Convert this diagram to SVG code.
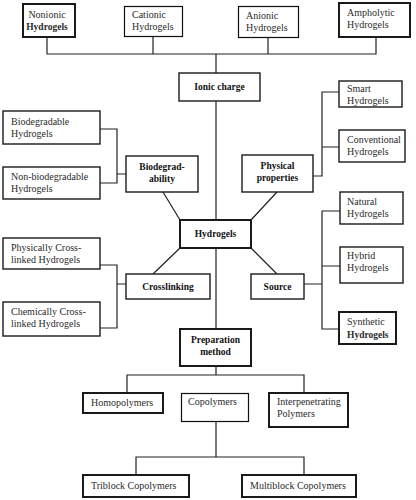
<svg xmlns="http://www.w3.org/2000/svg" width="416" height="500" viewBox="0 0 416 500">
<style>
rect{fill:#fff;stroke:#1a1a1a;stroke-width:1.4}
rect.t{stroke-width:2}
rect.n{stroke-width:1.2;stroke:#111}
rect.bg{stroke:none}
#connectors path{fill:none;stroke:#222;stroke-width:1.2}
text{font-family:"Liberation Serif","Times New Roman",serif;font-size:10px;fill:#2a2a2a}
text.b{font-weight:bold;font-size:9.5px;fill:#111}
text.c{text-anchor:middle}
</style>
<rect class="bg" x="0" y="0" width="416" height="500"/>
<g id="connectors">
<path d="M47 37V54H376V37M153 36V54M268 37V54M216 54V73"/>
<path d="M216 101V220M216 248V329"/>
<path d="M163 192L180 220M277 192L251 220M180 248L153 274M251 248L277 274"/>
<path d="M100 129H117V183H100M117 174H126"/>
<path d="M100 265H117V328H100M117 284H126"/>
<path d="M339 92H322V176H313M322 147H339"/>
<path d="M340 211H322V329H339M322 266H340M304 284H322"/>
<path d="M216 366V375M127 393V375H304V393"/>
<path d="M216 421V457M136 475V457H304V475"/>
</g>
<g id="nonionic"><rect class="t" x="23" y="4" width="52" height="33"/><text class="c" x="47" y="18">Nonionic</text><text class="c" x="47" y="30" style="font-weight:bold;font-size:9.5px">Hydrogels</text></g>
<g id="cationic"><rect class="n" x="124.5" y="6.5" width="58" height="30"/><text x="132" y="18">Cationic</text><text x="132" y="30">Hydrogels</text></g>
<g id="anionic"><rect class="n" x="238.5" y="6.5" width="60" height="31"/><text x="246" y="19">Anionic</text><text x="246" y="31">Hydrogels</text></g>
<g id="ampholytic"><rect class="t" x="339" y="3" width="71" height="34"/><text x="347" y="16">Ampholytic</text><text x="347" y="28">Hydrogels</text></g>
<g id="ionic-charge"><rect x="179" y="73" width="81" height="28"/><text class="b c" x="219.5" y="90">Ionic charge</text></g>
<g id="smart"><rect x="339" y="81" width="63" height="26"/><text x="347" y="92">Smart</text><text x="347" y="104">Hydrogels</text></g>
<g id="conventional"><rect x="339" y="130" width="66" height="32"/><text x="347" y="143">Conventional</text><text x="347" y="155">Hydrogels</text></g>
<g id="biodegradable"><rect x="3" y="111" width="97" height="33"/><text x="11" y="125">Biodegradable</text><text x="11" y="137">Hydrogels</text></g>
<g id="non-biodegradable"><rect x="3" y="167" width="97" height="32"/><text x="11" y="180">Non-biodegradable</text><text x="11" y="192">Hydrogels</text></g>
<g id="biodegradability"><rect x="126" y="156" width="72" height="36"/><text class="b c" x="162" y="170">Biodegrad-</text><text class="b c" x="162" y="182">ability</text></g>
<g id="physical-properties"><rect x="242" y="155" width="71" height="37"/><text class="b c" x="277.5" y="169">Physical</text><text class="b c" x="277.5" y="181">properties</text></g>
<g id="natural"><rect x="340" y="192" width="63" height="32"/><text x="347" y="205">Natural</text><text x="347" y="217">Hydrogels</text></g>
<g id="hydrogels"><rect class="t" x="180" y="220" width="71" height="28"/><text class="b c" x="215.5" y="237">Hydrogels</text></g>
<g id="physically"><rect x="3" y="238" width="97" height="31"/><text x="11" y="251">Physically Cross-</text><text x="11" y="263">linked Hydrogels</text></g>
<g id="hybrid"><rect x="340" y="247" width="63" height="36"/><text x="347" y="259">Hybrid</text><text x="347" y="271">Hydrogels</text></g>
<g id="crosslinking"><rect x="126" y="274" width="84" height="25"/><text class="b c" x="168" y="290">Crosslinking</text></g>
<g id="source"><rect x="251" y="274" width="53" height="25"/><text class="b c" x="277.5" y="290">Source</text></g>
<g id="chemically"><rect x="3" y="302" width="97" height="34"/><text x="11" y="315">Chemically Cross-</text><text x="11" y="327">linked Hydrogels</text></g>
<g id="synthetic"><rect class="t" x="339" y="312" width="57" height="32"/><text x="347" y="325">Synthetic</text><text x="347" y="338" style="font-weight:bold;font-size:9.5px">Hydrogels</text></g>
<g id="preparation"><rect class="t" x="180" y="329" width="71" height="37"/><text class="b c" x="215.5" y="343">Preparation</text><text class="b c" x="215.5" y="355">method</text></g>
<g id="homopolymers"><rect class="t" x="83" y="393" width="80" height="20"/><text x="91" y="406">Homopolymers</text></g>
<g id="copolymers"><rect class="n" x="181.5" y="393.5" width="67" height="28"/><text x="188" y="405">Copolymers</text></g>
<g id="interpenetrating"><rect class="t" x="269" y="393" width="79" height="34"/><text x="277" y="405">Interpenetrating</text><text x="277" y="417">Polymers</text></g>
<g id="triblock"><rect class="t" x="83" y="475" width="106" height="22"/><text x="91" y="489">Triblock Copolymers</text></g>
<g id="multiblock"><rect class="t" x="242" y="475" width="114" height="22"/><text x="250" y="489">Multiblock Copolymers</text></g>
</svg>
